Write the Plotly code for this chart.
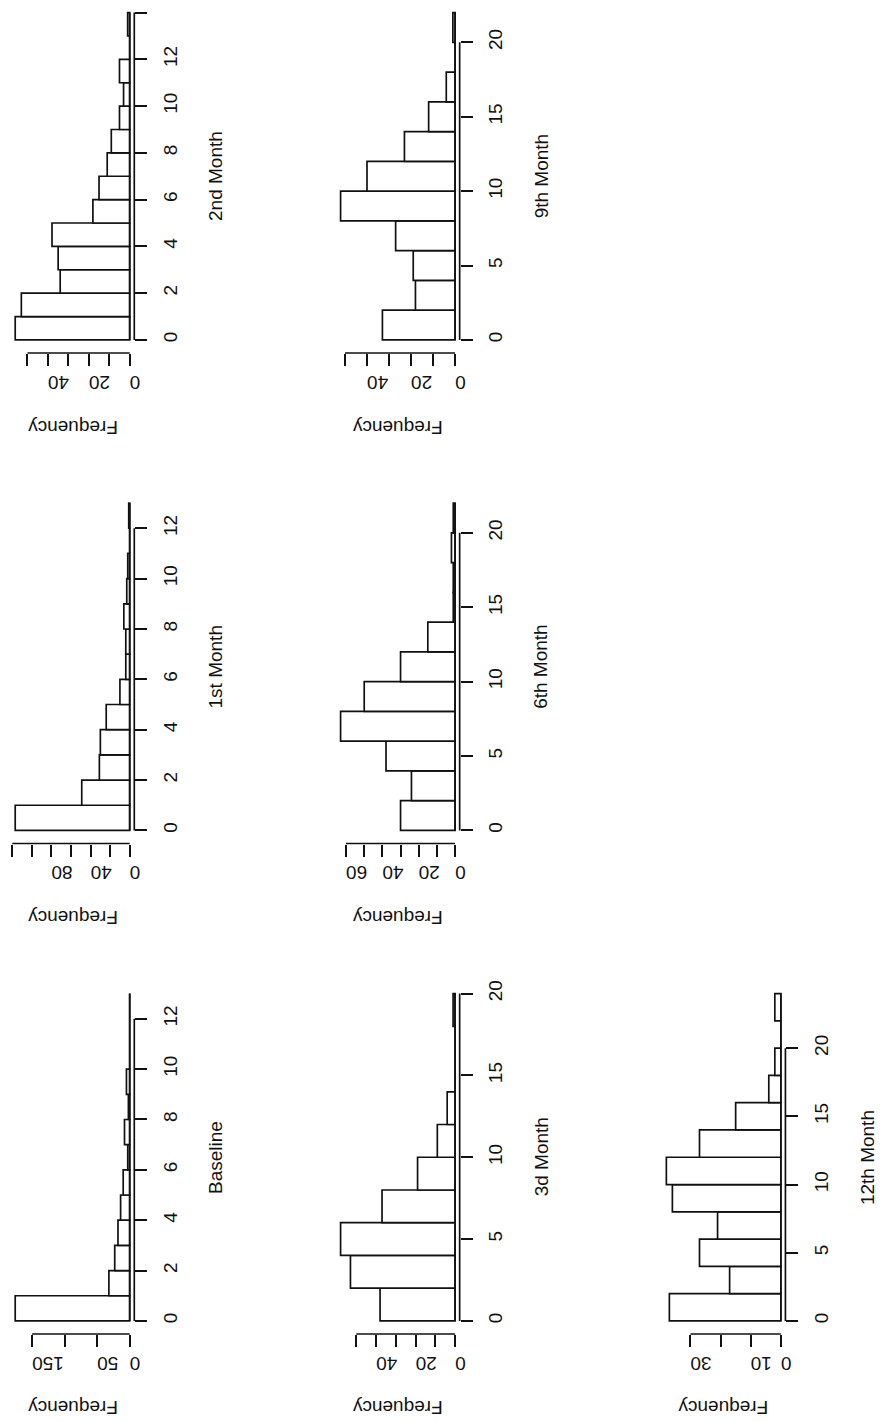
import plotly.graph_objects as go

# ---- data: bin edges and counts per visit -------------------------------
BASELINE_BREAKS = [0, 1, 2, 3, 4, 5, 6, 7, 8, 9, 10, 11, 12, 13]
BASELINE_COUNTS = [176, 32, 23, 18, 14, 10, 3, 8, 2, 5, 0, 0, 0]

MONTH1_BREAKS = [0, 1, 2, 3, 4, 5, 6, 7, 8, 9, 10, 11, 12, 13]
MONTH1_COUNTS = [117, 49, 31, 30, 24, 10, 4, 4, 6, 3, 2, 0, 1]

MONTH2_BREAKS = [0, 1, 2, 3, 4, 5, 6, 7, 8, 9, 10, 11, 12, 13, 14]
MONTH2_COUNTS = [56, 53, 34, 35, 38, 18, 15, 11, 9, 5, 3, 5, 0, 1]

MONTH3_BREAKS = [0, 2, 4, 6, 8, 10, 12, 14, 16, 18, 20]
MONTH3_COUNTS = [38, 53, 58, 37, 19, 9, 4, 0, 0, 1]

MONTH6_BREAKS = [0, 2, 4, 6, 8, 10, 12, 14, 16, 18, 20, 22]
MONTH6_COUNTS = [30, 24, 38, 63, 50, 30, 15, 1, 1, 2, 1]

MONTH9_BREAKS = [0, 2, 4, 6, 8, 10, 12, 14, 16, 18, 20, 22]
MONTH9_COUNTS = [33, 18, 19, 27, 52, 40, 23, 12, 4, 0, 1]

MONTH12_BREAKS = [0, 2, 4, 6, 8, 10, 12, 14, 16, 18, 20, 22, 24]
MONTH12_COUNTS = [37, 17, 27, 21, 36, 38, 27, 15, 4, 2, 0, 2]

# axis ticks (value axis = frequency, bin axis = score)
BASELINE_FREQ_TICKS = [0, 50, 100, 150]
BASELINE_FREQ_LABELS = ["0", "50", "", "150"]
MONTH1_FREQ_TICKS = [0, 20, 40, 60, 80, 100, 120]
MONTH1_FREQ_LABELS = ["0", "", "40", "", "80", "", ""]
MONTH2_FREQ_TICKS = [0, 10, 20, 30, 40, 50]
MONTH2_FREQ_LABELS = ["0", "", "20", "", "40", ""]
MONTH3_FREQ_TICKS = [0, 10, 20, 30, 40, 50]
MONTH3_FREQ_LABELS = ["0", "", "20", "", "40", ""]
MONTH6_FREQ_TICKS = [0, 10, 20, 30, 40, 50, 60]
MONTH6_FREQ_LABELS = ["0", "", "20", "", "40", "", "60"]
MONTH9_FREQ_TICKS = [0, 10, 20, 30, 40, 50]
MONTH9_FREQ_LABELS = ["0", "", "20", "", "40", ""]
MONTH12_FREQ_TICKS = [0, 10, 20, 30]
MONTH12_FREQ_LABELS = ["0", "10", "", "30"]

BIN_TICKS_SHORT = [0, 2, 4, 6, 8, 10, 12]
BIN_TICKS_2ND = [0, 2, 4, 6, 8, 10, 12, 14]
BIN_TICKS_LONG = [0, 5, 10, 15, 20]

TITLES = ["Baseline", "1st Month", "2nd Month", "3d Month", "6th Month",
          "9th Month", "12th Month"]

# ---- page geometry (pixels) --------------------------------------------
W, H = 883, 1421
COL_LEFT = [10.7, 338.3, 666.3]
ROW_TOP = [980.5, 490.0, -0.5]      # panel order fills columns bottom-up
PLOT_W = 124.5
PLOT_H = 353.5
FONT = "Liberation Sans, Arial, Helvetica, sans-serif"
INK = "#111111"
LW = 1.7

panels = [
    (TITLES[0], BASELINE_BREAKS, BASELINE_COUNTS, BASELINE_FREQ_TICKS, BASELINE_FREQ_LABELS, BIN_TICKS_SHORT, 0, 0),
    (TITLES[1], MONTH1_BREAKS, MONTH1_COUNTS, MONTH1_FREQ_TICKS, MONTH1_FREQ_LABELS, BIN_TICKS_SHORT, 0, 1),
    (TITLES[2], MONTH2_BREAKS, MONTH2_COUNTS, MONTH2_FREQ_TICKS, MONTH2_FREQ_LABELS, BIN_TICKS_2ND, 0, 2),
    (TITLES[3], MONTH3_BREAKS, MONTH3_COUNTS, MONTH3_FREQ_TICKS, MONTH3_FREQ_LABELS, BIN_TICKS_LONG, 1, 0),
    (TITLES[4], MONTH6_BREAKS, MONTH6_COUNTS, MONTH6_FREQ_TICKS, MONTH6_FREQ_LABELS, BIN_TICKS_LONG, 1, 1),
    (TITLES[5], MONTH9_BREAKS, MONTH9_COUNTS, MONTH9_FREQ_TICKS, MONTH9_FREQ_LABELS, BIN_TICKS_LONG, 1, 2),
    (TITLES[6], MONTH12_BREAKS, MONTH12_COUNTS, MONTH12_FREQ_TICKS, MONTH12_FREQ_LABELS, BIN_TICKS_LONG, 2, 0),
]

fig = go.Figure()
layout = dict(
    width=W, height=H, margin=dict(l=0, r=0, t=0, b=0),
    paper_bgcolor="white", plot_bgcolor="white", showlegend=False,
    font=dict(family=FONT, size=19, color=INK),
)
shapes = []
annotations = []

for i, (title, breaks, counts, fticks, flabels, bticks, col, row) in enumerate(panels):
    n = "" if i == 0 else str(i + 1)
    xa, ya = "x" + n, "y" + n

    mids = [(a + b) / 2 for a, b in zip(breaks[:-1], breaks[1:])]
    widths = [b - a for a, b in zip(breaks[:-1], breaks[1:])]

    # histogram bars, frequency runs leftwards from the baseline
    fig.add_trace(go.Bar(
        x=counts, y=mids, width=widths, orientation="h",
        marker=dict(color="white", line=dict(color=INK, width=LW)),
        xaxis=xa, yaxis=ya, hoverinfo="x+y",
    ))
    # outline of the empty bins along the baseline
    fig.add_trace(go.Scatter(
        x=[0, 0], y=[breaks[0], breaks[-1]], mode="lines",
        line=dict(color=INK, width=LW), xaxis=xa, yaxis=ya, hoverinfo="skip",
    ))

    cmax = max(counts)
    xr = [cmax * 1.04, -cmax * 0.04]
    span = breaks[-1] - breaks[0]
    lo, hi = breaks[0] - 0.04 * span, breaks[-1] + 0.04 * span

    left = COL_LEFT[col]
    right = left + PLOT_W
    top = ROW_TOP[row]
    bottom = top + PLOT_H
    if top < 0:
        hi = lo + (hi - lo) * bottom / (bottom - top)
        top = 0.0

    layout["xaxis" + n] = dict(
        domain=[left / W, right / W], range=xr, anchor=ya,
        tickmode="array", tickvals=fticks, ticktext=flabels,
        ticks="outside", ticklen=12, tickwidth=LW, tickcolor=INK,
        ticklabelstandoff=6,
        tickangle=180, showgrid=False, zeroline=False, showline=False,
        tickfont=dict(size=19, color=INK, family=FONT),
    )
    layout["yaxis" + n] = dict(
        domain=[1 - bottom / H, 1 - top / H], range=[lo, hi], anchor=xa,
        side="right", tickmode="array", tickvals=bticks,
        ticktext=[str(t) for t in bticks],
        ticks="outside", ticklen=12, tickwidth=LW, tickcolor=INK,
        ticklabelstandoff=7,
        tickangle=-90, showgrid=False, zeroline=False, showline=False,
        tickfont=dict(size=19, color=INK, family=FONT),
    )

    # axis lines spanning first to last tick
    fx = lambda v: (v - xr[0]) / (xr[1] - xr[0])
    fy = lambda v: (v - lo) / (hi - lo)
    shapes.append(dict(type="line", xref=xa + " domain", yref=ya + " domain",
                       x0=fx(fticks[0]), x1=fx(fticks[-1]), y0=0, y1=0,
                       line=dict(color=INK, width=LW)))
    shapes.append(dict(type="line", xref=xa + " domain", yref=ya + " domain",
                       x0=1, x1=1, y0=fy(bticks[0]), y1=fy(bticks[-1]),
                       line=dict(color=INK, width=LW)))

    ideal_top = ROW_TOP[row]
    annotations.append(dict(
        text=title, xref="paper", yref="paper",
        x=(right + 82) / W, y=1 - (ideal_top + bottom) / 2 / H,
        textangle=-90, showarrow=False, xanchor="center", yanchor="middle",
        font=dict(size=19, color=INK, family=FONT),
    ))
    annotations.append(dict(
        text="Frequency", xref="paper", yref="paper",
        x=(left + right) / 2 / W, y=1 - (bottom + 74) / H,
        textangle=180, showarrow=False, xanchor="center", yanchor="middle",
        font=dict(size=19, color=INK, family=FONT),
    ))

layout["shapes"] = shapes
layout["annotations"] = annotations
fig.update_layout(**layout)
fig.write_html("out.html")
